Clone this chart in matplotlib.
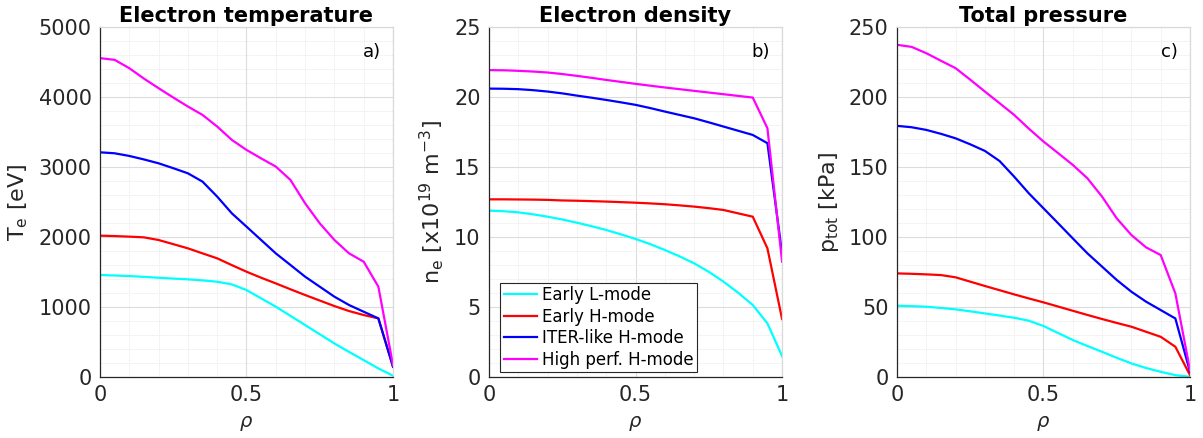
import numpy as np
import matplotlib.pyplot as plt
from matplotlib.ticker import MultipleLocator

# radial coordinate
rho = [0.0, 0.05, 0.10, 0.15, 0.20, 0.25, 0.30, 0.35, 0.40, 0.45, 0.50,
       0.55, 0.60, 0.65, 0.70, 0.75, 0.80, 0.85, 0.90, 0.95, 1.0]

scenarios = ["Early L-mode", "Early H-mode", "ITER-like H-mode", "High perf. H-mode"]
colors = ["cyan", "red", "blue", "magenta"]

# electron temperature [eV]
te_l = [1459, 1452, 1444, 1432, 1420, 1408, 1397, 1382, 1363, 1325, 1244,
        1125, 1006, 875, 744, 612, 481, 360, 243, 124, 20]
te_h = [2021, 2015, 2007, 1997, 1959, 1900, 1840, 1768, 1697, 1600, 1506,
        1420, 1339, 1255, 1173, 1094, 1015, 944, 887, 839, 148]
te_iter = [3212, 3198, 3160, 3110, 3055, 2985, 2912, 2793, 2579, 2340, 2150,
           1959, 1768, 1602, 1435, 1292, 1149, 1030, 934, 839, 148]
te_hp = [4557, 4533, 4414, 4265, 4128, 3995, 3866, 3746, 3580, 3389, 3246,
         3125, 3008, 2817, 2483, 2197, 1959, 1768, 1649, 1292, 172]

# electron density [1e19 m^-3]
ne_l = [11.89, 11.85, 11.77, 11.63, 11.46, 11.26, 11.03, 10.78, 10.51, 10.2, 9.87,
        9.5, 9.08, 8.63, 8.13, 7.52, 6.82, 6.03, 5.15, 3.84, 1.5]
ne_h = [12.7, 12.7, 12.69, 12.68, 12.66, 12.62, 12.6, 12.57, 12.54, 12.5, 12.46,
        12.41, 12.35, 12.27, 12.18, 12.07, 11.94, 11.7, 11.46, 9.2, 4.15]
ne_iter = [20.61, 20.6, 20.57, 20.5, 20.4, 20.27, 20.11, 19.96, 19.8, 19.63, 19.45,
           19.22, 18.97, 18.73, 18.49, 18.2, 17.9, 17.6, 17.3, 16.71, 8.84]
ne_hp = [21.93, 21.92, 21.88, 21.83, 21.76, 21.65, 21.52, 21.38, 21.23, 21.09, 20.95,
         20.82, 20.69, 20.57, 20.45, 20.33, 20.21, 20.09, 19.97, 17.78, 8.25]

# total pressure [kPa]
p_l = [51, 50.7, 50.3, 49.4, 48.4, 47, 45.5, 44, 42.4, 40.3, 36.5,
       31.5, 26.5, 22.2, 18.1, 13.8, 9.8, 6.5, 3.8, 1.4, 0.2]
p_h = [74.1, 73.8, 73.4, 72.9, 71.3, 68.2, 65.1, 62.1, 59.1, 56.2, 53.4,
       50.4, 47.4, 44.4, 41.5, 38.7, 36, 32.4, 28.8, 21.7, 1.4]
p_iter = [179.5, 178.5, 176.6, 173.8, 170.6, 166.3, 161.6, 154.4, 143.2, 131.3, 120.6,
          109.9, 99.1, 88.4, 78.9, 69.4, 61, 53.9, 47.9, 41.9, 3.8]
p_hp = [237.4, 235.9, 231.4, 226, 220.7, 212.5, 204, 195.7, 187.3, 177.5, 168.3,
        160, 151.6, 142, 128.9, 113.4, 101.5, 92.7, 87.2, 59.8, 5]

panels = [
    ("Electron temperature", r"$\mathregular{T_e\ [eV]}$", "a)",
     [te_l, te_h, te_iter, te_hp], 5000, 1000, 200),
    ("Electron density", r"$\mathregular{n_e\ [x10^{19}\ m^{-3}]}$", "b)",
     [ne_l, ne_h, ne_iter, ne_hp], 25, 5, 1),
    ("Total pressure", r"$\mathregular{p_{tot}\ [kPa]}$", "c)",
     [p_l, p_h, p_iter, p_hp], 250, 50, 10),
]

plt.rcParams['font.family'] = 'DejaVu Sans'
fig = plt.figure(figsize=(12.03, 4.38), dpi=100)
lefts = [0.0831, 0.4065, 0.7456]
dark = '#262626'

for k, (title, ylab, tag, series, ymax, ymaj, ymin) in enumerate(panels):
    ax = fig.add_axes([lefts[k], 0.139, 0.2436, 0.799])
    for vals, name, c in zip(series, scenarios, colors):
        ax.plot(rho, vals, color=c, lw=1.6, label=name)
    ax.set_xlim(0, 1)
    ax.set_ylim(0, ymax)
    ax.set_xticks([0, 0.5, 1], ['0', '0.5', '1'])
    ax.xaxis.set_minor_locator(MultipleLocator(0.1))
    ax.yaxis.set_major_locator(MultipleLocator(ymaj))
    ax.yaxis.set_minor_locator(MultipleLocator(ymin))
    ax.grid(True, which='major', color='#dcdcdc', lw=0.8)
    ax.grid(True, which='minor', color='#e6e6e6', lw=0.6, ls=(0, (1, 1)))
    ax.set_axisbelow(True)
    ax.tick_params(which='both', direction='in', length=0, labelsize=15,
                   colors=dark, pad=6)
    for s in ['left', 'bottom']:
        ax.spines[s].set_color(dark)
        ax.spines[s].set_linewidth(0.9)
    for s in ['top', 'right']:
        ax.spines[s].set_color('#d9d9d9')
        ax.spines[s].set_linewidth(0.9)
    ax.set_title(title, fontsize=15, fontweight='bold', pad=4)
    ax.set_ylabel(ylab, fontsize=16, color=dark, labelpad=6)
    ax.set_xlabel(r'$\rho$', fontsize=14, color=dark, labelpad=6)
    ax.text(0.96, 0.955, tag, transform=ax.transAxes, ha='right', va='top',
            fontsize=13, color='black')
    if k == 1:
        leg = ax.legend(loc='lower left', bbox_to_anchor=(0.01, -0.01),
                        fontsize=12, handlelength=2.0, handletextpad=0.3,
                        borderpad=0.2, labelspacing=0.22, borderaxespad=0.5,
                        fancybox=False, framealpha=1)
        leg.get_frame().set_edgecolor(dark)
        leg.get_frame().set_linewidth(0.8)

fig.savefig('out.png', dpi=100)
